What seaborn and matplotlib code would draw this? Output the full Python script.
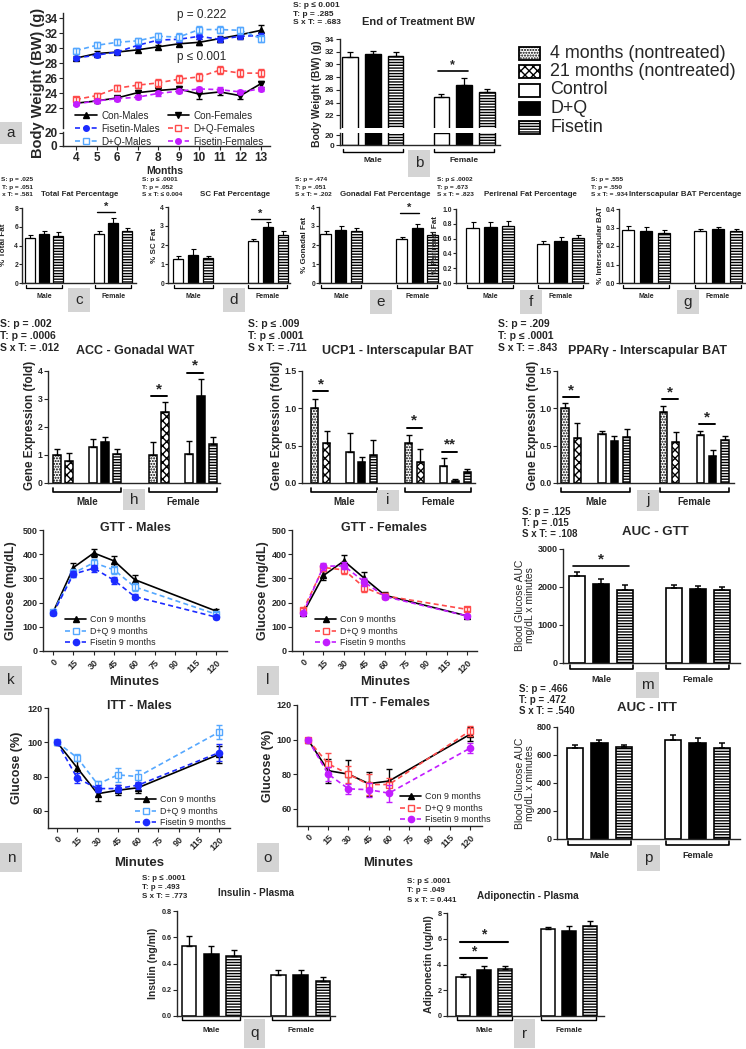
import numpy as np
import pandas as pd
import seaborn as sns
import matplotlib.pyplot as plt
import matplotlib.font_manager as fm
from matplotlib.patches import Rectangle

W, H = 746, 1049

# ---- (a) body weight by month ----
months = [4, 5, 6, 7, 8, 9, 10, 11, 12, 13]
bw_con_m = [28.7, 29.3, 29.5, 29.8, 30.2, 30.6, 30.8, 31.3, 31.8, 32.4]
bw_con_m_err = [0.3, 0.3, 0.3, 0.3, 0.3, 0.3, 0.4, 0.4, 0.5, 0.7]
bw_fis_m = [28.7, 29.1, 29.5, 30.4, 31.1, 31.2, 31.6, 31.2, 31.6, 31.7]
bw_fis_m_err = [0.2, 0.3, 0.3, 0.3, 0.3, 0.3, 0.3, 0.3, 0.3, 0.3]
bw_dq_m = [29.7, 30.4, 30.8, 31.0, 31.6, 31.5, 32.5, 32.5, 32.4, 31.3]
bw_dq_m_err = [0.4, 0.4, 0.4, 0.4, 0.5, 0.5, 0.5, 0.5, 0.5, 0.5]
bw_con_f = [22.7, 23.0, 23.4, 24.1, 24.4, 24.6, 23.9, 24.2, 23.7, 25.3]
bw_con_f_err = [0.2, 0.3, 0.3, 0.3, 0.3, 0.4, 0.6, 0.4, 0.4, 0.4]
bw_dq_f = [23.2, 23.7, 24.7, 25.1, 25.4, 25.9, 26.2, 27.1, 26.7, 26.7]
bw_dq_f_err = [0.3, 0.3, 0.4, 0.4, 0.5, 0.5, 0.5, 0.5, 0.5, 0.5]
bw_fis_f = [22.6, 23.0, 23.3, 23.5, 24.0, 24.3, 24.6, 24.5, 24.2, 24.6]
bw_fis_f_err = [0.2, 0.2, 0.3, 0.3, 0.3, 0.3, 0.3, 0.3, 0.3, 0.3]

# ---- GTT / ITT curves ----
minutes = [0, 15, 30, 45, 60, 120]
min_ticks = [0, 15, 30, 45, 60, 75, 90, 105, 120]
min_labels = ['0', '15', '30', '45', '60', '75', '90', '115', '120']
gtt_m_con = [160, 345, 405, 372, 295, 165]
gtt_m_con_err = [8, 20, 18, 20, 18, 10]
gtt_m_dq = [160, 322, 365, 335, 265, 152]
gtt_m_dq_err = [8, 15, 15, 15, 15, 8]
gtt_m_fis = [155, 318, 342, 292, 225, 140]
gtt_m_fis_err = [6, 12, 15, 15, 10, 6]
gtt_f_con = [155, 312, 372, 300, 230, 145]
gtt_f_con_err = [8, 18, 25, 25, 12, 5]
gtt_f_dq = [168, 345, 335, 262, 228, 172]
gtt_f_dq_err = [8, 15, 15, 20, 10, 8]
gtt_f_fis = [155, 350, 352, 285, 225, 145]
gtt_f_fis_err = [6, 15, 15, 15, 10, 5]
itt_m_con = [100, 85, 70, 72, 73.5, 93]
itt_m_con_err = [1, 5, 4, 3, 3, 5]
itt_m_dq = [100, 91, 75.5, 81, 80, 106]
itt_m_dq_err = [1, 2, 2, 4, 4, 4]
itt_m_fis = [100, 79, 73, 73, 75, 94]
itt_m_fis_err = [1, 3, 2, 2, 2, 5]
itt_f_con = [100, 82, 80, 74.5, 76, 103]
itt_f_con_err = [1, 7, 8, 7, 7, 4]
itt_f_dq = [100, 86, 80, 74, 74, 105]
itt_f_dq_err = [1, 6, 5, 6, 4, 3]
itt_f_fis = [100, 80, 71.5, 71, 69, 95]
itt_f_fis_err = [1, 4, 3, 4, 5, 3]

# ---- bar panels: Control / D+Q / Fisetin, males then females ----
sex3 = ['Male'] * 3 + ['Female'] * 3
trt3 = ['Control', 'D+Q', 'Fisetin'] * 2
bw_end = [31.1, 31.6, 31.4, 24.9, 26.8, 25.7]
bw_end_err = [0.8, 0.55, 0.5, 0.5, 1.0, 0.5]
total_fat = [4.8, 5.2, 5.05, 5.2, 6.4, 5.55]
total_fat_err = [0.35, 0.35, 0.4, 0.3, 0.55, 0.3]
sc_fat = [1.28, 1.5, 1.3, 2.22, 2.93, 2.55]
sc_fat_err = [0.12, 0.27, 0.1, 0.1, 0.3, 0.17]
gonadal_fat = [2.58, 2.8, 2.72, 2.3, 2.92, 2.52]
gonadal_fat_err = [0.18, 0.2, 0.2, 0.1, 0.2, 0.15]
perirenal_fat = [0.75, 0.76, 0.77, 0.53, 0.57, 0.61]
perirenal_fat_err = [0.07, 0.06, 0.07, 0.04, 0.05, 0.04]
bat_pct = [0.285, 0.282, 0.272, 0.283, 0.29, 0.28]
bat_pct_err = [0.025, 0.02, 0.015, 0.01, 0.015, 0.012]
auc_gtt = [2280, 2090, 1920, 1980, 1960, 1930]
auc_gtt_err = [110, 110, 120, 70, 70, 60]
auc_itt = [650, 685, 655, 705, 685, 648]
auc_itt_err = [25, 22, 15, 40, 38, 35]
insulin = [0.53, 0.47, 0.46, 0.31, 0.315, 0.27]
insulin_err = [0.08, 0.06, 0.04, 0.04, 0.035, 0.03]
adiponectin = [3.0, 3.6, 3.65, 6.75, 6.6, 7.0]
adiponectin_err = [0.25, 0.25, 0.25, 0.2, 0.4, 0.38]

# ---- gene expression: 4 mo / 21 mo / Control / D+Q / Fisetin ----
sex5 = ['Male'] * 5 + ['Female'] * 5
trt5 = ['4 months', '21 months', 'Control', 'D+Q', 'Fisetin'] * 2
acc = [1.0, 0.78, 1.28, 1.48, 1.03, 1.0, 2.52, 1.03, 3.1, 1.4]
acc_err = [0.2, 0.28, 0.28, 0.15, 0.2, 0.45, 0.38, 0.48, 0.62, 0.25]
ucp1 = [1.0, 0.53, 0.42, 0.28, 0.37, 0.54, 0.28, 0.23, 0.03, 0.15]
ucp1_err = [0.13, 0.16, 0.25, 0.07, 0.2, 0.1, 0.17, 0.1, 0.03, 0.04]
pparg = [1.0, 0.6, 0.65, 0.56, 0.62, 0.95, 0.55, 0.64, 0.36, 0.57]
pparg_err = [0.07, 0.21, 0.04, 0.07, 0.1, 0.08, 0.13, 0.05, 0.08, 0.06]

legend_keys = ['4 months', '21 months', 'Control', 'D+Q', 'Fisetin']
legend_labels = ['4 months (nontreated)', '21 months (nontreated)', 'Control', 'D+Q', 'Fisetin']

FACE = {'4 months': 'white', '21 months': 'white', 'Control': 'white', 'D+Q': 'black', 'Fisetin': 'white'}
HATCH = {'4 months': '......', '21 months': 'xxxx', 'Control': '', 'D+Q': '', 'Fisetin': '------'}

ORDER3_1 = ['Male|Control', 'Male|D+Q', 'Male|Fisetin', 'g1',
            'Female|Control', 'Female|D+Q', 'Female|Fisetin']
ORDER3_2 = ['Male|Control', 'Male|D+Q', 'Male|Fisetin', 'g1', 'g2',
            'Female|Control', 'Female|D+Q', 'Female|Fisetin']
ORDER5 = ['Male|4 months', 'Male|21 months', 'g1', 'Male|Control', 'Male|D+Q', 'Male|Fisetin', 'g2', 'g3',
          'Female|4 months', 'Female|21 months', 'g4', 'Female|Control', 'Female|D+Q', 'Female|Fisetin']

sns.set_style("ticks")
plt.rcParams['font.family'] = ['Liberation Sans', 'DejaVu Sans']
plt.rcParams['hatch.linewidth'] = 1.0
plt.rcParams['axes.linewidth'] = 1.0

avail = {f.name for f in fm.fontManager.ttflist}
if 'Liberation Sans Narrow' in avail:
    NARROW, NK = ['Liberation Sans Narrow', 'DejaVu Sans'], 1.0
else:
    NARROW, NK = ['Liberation Sans', 'DejaVu Sans'], 0.9
BASE = ['Liberation Sans', 'DejaVu Sans']

fig = plt.figure(figsize=(W / 100, H / 100), dpi=100)


def px_ax(l, t, r, b):
    ax = fig.add_axes([l / W, 1 - b / H, (r - l) / W, (b - t) / H])
    ax.patch.set_alpha(0)
    return ax


def T(x, y, s, size, bold=False, ha='left', va='center', rot=0, family=None, **kw):
    fig.text(x / W, 1 - y / H, s, fontsize=size, fontweight='bold' if bold else 'normal',
             ha=ha, va=va, rotation=rot, family=family or BASE, **kw)


def stats(x, y0, lines, size, dy, family=None, ha='left'):
    for k, s in enumerate(lines):
        T(x, y0 + k * dy, s, size, bold=True, family=family, ha=ha)


def box(x, y, w, h, **kw):
    fig.add_artist(Rectangle((x / W, 1 - (y + h) / H), w / W, h / H, transform=fig.transFigure, **kw))


def letter(x, y, w, h, s):
    box(x, y, w, h, facecolor='#d4d4d4', edgecolor='none')
    T(x + w / 2, y + h / 2, s, 11, ha='center')


def yaxis(ax, ylim, yticks, fs, family=None, labels=None, tl=3, pad=1):
    ax.set_ylim(*ylim)
    ax.set_yticks(yticks)
    if labels is not None:
        ax.set_yticklabels(labels)
    ax.tick_params(axis='y', labelsize=fs, length=tl, width=0.8, pad=pad)
    for lab in ax.get_yticklabels():
        lab.set_fontweight('bold')
        lab.set_family(family or BASE)
    sns.despine(ax=ax)


def bars(ax, sexes, trts, vals, errs, order, width, pads, err=True, lw=1.0, cap=2):
    slot = [f'{s}|{t}' for s, t in zip(sexes, trts)]
    df = pd.DataFrame({'slot': slot, 'trt': trts, 'value': vals})
    sns.barplot(data=df, x='slot', y='value', hue='trt', order=order, palette=FACE, dodge=False,
                width=width, edgecolor='black', linewidth=lw, errorbar=None, legend=False, ax=ax)
    for p in ax.patches:
        k = int(round(p.get_x() + p.get_width() / 2))
        p.set_hatch(HATCH[order[k].split('|')[1]])
    xs = [order.index(s) for s in slot]
    if err:
        ax.errorbar(xs, vals, yerr=[[0] * len(errs), errs], fmt='none', ecolor='black',
                    elinewidth=lw * 0.9, capsize=cap, capthick=lw * 0.9)
    ax.set_xlim(-pads[0], len(order) - 1 + pads[1])
    ax.set_xticks([])
    ax.set_xlabel('')
    ax.set_ylabel('')
    return xs


def groups(ax, xs, sexes, d, label_d, fs, family=None, tick=3, lw=1.0):
    hpx = ax.bbox.height
    tr = ax.get_xaxis_transform()
    for sx in ('Male', 'Female'):
        pos = [x for x, s in zip(xs, sexes) if s == sx]
        x0, x1 = min(pos) - 0.3, max(pos) + 0.3
        y0, y1 = -d / hpx, -(d - tick) / hpx
        ax.plot([x0, x0, x1, x1], [y1, y0, y0, y1], transform=tr, clip_on=False, color='black', lw=lw)
        ax.text((x0 + x1) / 2, -label_d / hpx, sx, transform=tr, ha='center', va='center',
                fontsize=fs, fontweight='bold', family=family or BASE)


def sig(ax, order, a, b, y, s, fs, lw=1.2):
    x0, x1 = order.index(a) - 0.15, order.index(b) + 0.15
    ax.plot([x0, x1], [y, y], color='black', lw=lw, clip_on=False)
    ax.text((x0 + x1) / 2, y, s, ha='center', va='bottom', fontsize=fs, fontweight='bold')


def curves(ax, x, series, ms=4.5):
    for lab, vals, errs, st in series:
        sns.lineplot(x=x, y=vals, ax=ax, label=lab, color=st['c'], marker=st['m'], linestyle=st['ls'],
                     markerfacecolor=st['mfc'], markeredgecolor=st['c'], markersize=ms,
                     markeredgewidth=1, linewidth=1.2)
        ax.errorbar(x, vals, yerr=errs, fmt='none', ecolor=st['c'], elinewidth=1, capsize=2, capthick=1)
    ax.set_xlabel('')
    ax.set_ylabel('')


DASH = (0, (3, 2))
ST = {
    'con_up': dict(c='black', m='^', ls='-', mfc='black'),
    'con_dn': dict(c='black', m='v', ls='-', mfc='black'),
    'fis_m': dict(c='#1c2bff', m='o', ls=DASH, mfc='#1c2bff'),
    'dq_m': dict(c='#55a8ff', m='s', ls=DASH, mfc='white'),
    'dq_f': dict(c='#ff4b4b', m='s', ls=DASH, mfc='white'),
    'fis_f': dict(c='#c21cff', m='o', ls=DASH, mfc='#c21cff'),
}

# ================= (a) =================
ax_at = px_ax(63, 13, 270, 128)
ax_ab = px_ax(63, 132, 270, 146)
curves(ax_at, months, [
    ('Con-Males', bw_con_m, bw_con_m_err, ST['con_up']),
    ('Fisetin-Males', bw_fis_m, bw_fis_m_err, ST['fis_m']),
    ('D+Q-Males', bw_dq_m, bw_dq_m_err, ST['dq_m']),
    ('Con-Females', bw_con_f, bw_con_f_err, ST['con_dn']),
    ('D+Q-Females', bw_dq_f, bw_dq_f_err, ST['dq_f']),
    ('Fisetin-Females', bw_fis_f, bw_fis_f_err, ST['fis_f']),
], ms=4)
hd, lb = ax_at.get_legend_handles_labels()
ax_at.get_legend().remove()
for ax in (ax_at, ax_ab):
    ax.set_xlim(3.37, 13.44)
yaxis(ax_at, (19.4, 34.7), [22, 24, 26, 28, 30, 32, 34], 8.5)
sns.despine(ax=ax_at, bottom=True)
ax_at.set_xticks([])
yaxis(ax_ab, (0, 21), [0, 20], 8.5)
ax_ab.set_xticks(months)
ax_ab.tick_params(axis='x', labelsize=8.5, length=3, width=0.8, pad=1.5)
for lab in ax_ab.get_xticklabels():
    lab.set_fontweight('bold')
fig.legend(hd, lb, loc='upper left', bbox_to_anchor=(70 / W, 1 - 106 / H), ncol=2, frameon=False,
           fontsize=7.1, handlelength=2.2, labelspacing=0.3, borderpad=0, handletextpad=0.45,
           columnspacing=0.8)
T(38, 83, 'Body Weight (BW) (g)', 10.5, bold=True, ha='center', rot=90)
T(165, 171, 'Months', 7.5, bold=True, ha='center')
T(177, 15, 'p = 0.222', 8.5)
T(177, 57, 'p \u2264 0.001', 8.5)
letter(0, 122, 22, 22, 'a')

# ================= (b) =================
ax_bt = px_ax(340, 39, 500, 128)
ax_bb = px_ax(340, 133, 500, 145)
xs = bars(ax_bt, sex3, trt3, bw_end, bw_end_err, ORDER3_1, 0.68, (0.44, 0.57))
bars(ax_bb, sex3, trt3, bw_end, bw_end_err, ORDER3_1, 0.68, (0.44, 0.57), err=False)
yaxis(ax_bt, (20, 34), [22, 24, 26, 28, 30, 32, 34], 6)
sns.despine(ax=ax_bt, bottom=True)
yaxis(ax_bb, (0, 24), [0, 20], 6)
sig(ax_bt, ORDER3_1, 'Female|Control', 'Female|D+Q', 29.0, '*', 9)
groups(ax_bb, xs, sex3, 7, 15, 6)
stats(293, 5, ['S: p \u2264 0.001', 'T: p = .285', 'S x T: = .683'], 6, 9)
T(418, 22, 'End of Treatment BW', 8, bold=True, ha='center')
T(317, 94, 'Body Weight (BW) (g)', 7.5, bold=True, ha='center', rot=90)
letter(408, 150, 22, 27, 'b')

# treatment legend (drawn row by row to keep the tight spacing)
for k, (key, lab) in enumerate(zip(legend_keys, legend_labels)):
    yc = 53 + k * 18.5
    box(519, yc - 6.5, 21, 13, facecolor=FACE[key], edgecolor='black', hatch=HATCH[key], linewidth=1.3)
    T(550, yc, lab, 12.9)

# ================= (c)-(g) =================
small = [
    ('c', (22, 208, 136, 283), total_fat, total_fat_err, ORDER3_2, 0.75, (0.58, 0.65), (0, 8), [0, 2, 4, 6, 8], None,
     '% Total Fat', 4, 'Total Fat Percentage', 80, ['S: p = .025', 'T: p = .051', 'S x T: = .581'], 33, 'right',
     [('Female|Control', 'Female|D+Q', 7.6, '*')], (68, 288)),
    ('d', (168, 207, 290, 283), sc_fat, sc_fat_err, ORDER3_2, 0.72, (0.67, 0.47), (0, 4), [0, 1, 2, 3, 4], None,
     '% SC Fat', 154, 'SC Fat Percentage', 235, ['S: p \u2264 .0001', 'T: p = .052', 'S x T: \u2264 0.004'], 142, 'left',
     [('Female|Control', 'Female|D+Q', 3.37, '*')], (223, 288)),
    ('e', (319, 207, 440, 283), gonadal_fat, gonadal_fat_err, ORDER3_2, 0.72, (0.43, 0.5), (0, 4), [0, 1, 2, 3, 4], None,
     '% Gonadal Fat', 305, 'Gonadal Fat Percentage', 385, ['S: p = .474', 'T: p = .051', 'S x T: = .202'], 295, 'left',
     [('Female|Control', 'Female|D+Q', 3.68, '*')], (370, 290)),
    ('f', (456, 209, 588, 283), perirenal_fat, perirenal_fat_err, ORDER3_1, 0.72, (0.95, 0.56), (0, 1.0),
     [0, 0.2, 0.4, 0.6, 0.8, 1.0], ['0.0', '0.2', '0.4', '0.6', '0.8', '1.0'],
     '% Perirenal Fat', 436, 'Perirenal Fat Percentage', 530, ['S: p \u2264 .0002', 'T: p = .673', 'S x T: = .823'],
     437, 'left', [], (520, 290)),
    ('g', (619, 209, 745, 283), bat_pct, bat_pct_err, ORDER3_1, 0.7, (0.5, 0.5), (0, 0.4),
     [0, 0.1, 0.2, 0.3, 0.4], ['0.0', '0.1', '0.2', '0.3', '0.4'],
     '% Interscapular BAT', 600, 'Interscapular BAT Percentage', 685,
     ['S: p = .555', 'T: p = .550', 'S x T: = .934'], 591, 'left', [], (677, 290)),
]
for (key, rect, vals, errs, order, width, pads, ylim, yt, ytl, ylab, ylx, title, tx, st, sx, sha,
     sigs, lpos) in small:
    ax = px_ax(*rect)
    xs = bars(ax, sex3, trt3, vals, errs, order, width, pads, lw=0.9, cap=1.8)
    yaxis(ax, ylim, yt, 5.4 * NK, NARROW, ytl, tl=2, pad=0.8)
    for a, b, y, s in sigs:
        sig(ax, order, a, b, y, s, 8, lw=1.0)
    groups(ax, xs, sex3, 5, 13, 5.6 * NK, NARROW, tick=3, lw=0.9)
    T(ylx, 245, ylab, 6.4 * NK, bold=True, ha='center', rot=90, family=NARROW)
    T(tx, 194, title, 6.3 * NK, bold=True, ha='center', family=NARROW)
    stats(sx, 180, st, 5.2 * NK, 7, NARROW, ha=sha)
    letter(lpos[0], lpos[1], 22, 24, key)

# ================= (h)-(j) =================
genes = [
    ('h', (48, 371, 220, 483), acc, acc_err, (0.75, 0.58), (0, 4), [0, 1, 2, 3, 4], None, 30,
     'ACC - Gonadal WAT', 135, ['S: p = .002', 'T: p = .0006', 'S x T: = .012'], 0,
     [('Female|4 months', 'Female|21 months', 3.1, '*'), ('Female|Control', 'Female|D+Q', 3.93, '*')], (123, 489)),
    ('i', (302, 371, 475, 483), ucp1, ucp1_err, (1.1, 0.68), (0, 1.5), [0, 0.5, 1.0, 1.5],
     ['0.0', '0.5', '1.0', '1.5'], 277,
     'UCP1 - Interscapular BAT', 398, ['S: p \u2264 .009', 'T: p \u2264 .0001', 'S x T: = .711'], 248,
     [('Male|4 months', 'Male|21 months', 1.23, '*'), ('Female|4 months', 'Female|21 months', 0.74, '*'),
      ('Female|Control', 'Female|D+Q', 0.42, '**')], (377, 490)),
    ('j', (557, 371, 734, 483), pparg, pparg_err, (0.65, 0.73), (0, 1.5), [0, 0.5, 1.0, 1.5],
     ['0.0', '0.5', '1.0', '1.5'], 533,
     'PPAR\u03b3 - Interscapular BAT', 647, ['S: p = .209', 'T: p \u2264 .0001', 'S x T: = .843'], 498,
     [('Male|4 months', 'Male|21 months', 1.15, '*'), ('Female|4 months', 'Female|21 months', 1.12, '*'),
      ('Female|Control', 'Female|D+Q', 0.79, '*')], (637, 490)),
]
for key, rect, vals, errs, pads, ylim, yt, ytl, ylx, title, tx, st, sx, sigs, lpos in genes:
    ax = px_ax(*rect)
    xs = bars(ax, sex5, trt5, vals, errs, ORDER5, 0.6, pads, lw=1.1, cap=2)
    yaxis(ax, ylim, yt, 6.3, None, ytl)
    for a, b, y, s in sigs:
        sig(ax, ORDER5, a, b, y, s, 11, lw=1.4)
    groups(ax, xs, sex5, 9, 19, 7, tick=4, lw=1.2)
    T(ylx, 425, 'Gene Expression (fold)', 8.5, bold=True, ha='center', rot=90)
    T(tx, 351, title, 9, bold=True, ha='center')
    stats(sx, 324, st, 7.5, 12)
    letter(lpos[0], lpos[1], 22, 21, key)

# ================= (k), (l), (n), (o) =================
lines_panels = [
    ('k', (43, 530, 227, 651), (-7.4, 128), (0, 500), [0, 100, 200, 300, 400, 500], 'GTT - Males', 'Glucose (mg/dL)',
     [('Con 9 months', gtt_m_con, gtt_m_con_err, ST['con_up']),
      ('D+Q 9 months', gtt_m_dq, gtt_m_dq_err, ST['dq_m']),
      ('Fisetin 9 months', gtt_m_fis, gtt_m_fis_err, ST['fis_m'])],
     (61, 611), 11, 134, 682, (0, 666)),
    ('l', (292, 530, 477, 651), (-8, 127.3), (0, 500), [0, 100, 200, 300, 400, 500], 'GTT - Females',
     'Glucose (mg/dL)',
     [('Con 9 months', gtt_f_con, gtt_f_con_err, ST['con_up']),
      ('D+Q 9 months', gtt_f_dq, gtt_f_dq_err, ST['dq_f']),
      ('Fisetin 9 months', gtt_f_fis, gtt_f_fis_err, ST['fis_f'])],
     (311, 611), 263, 385, 682, (257, 666)),
    ('n', (48, 708, 230, 828), (-6.7, 128), (50, 120), [60, 80, 100, 120], 'ITT - Males', 'Glucose (%)',
     [('Con 9 months', itt_m_con, itt_m_con_err, ST['con_up']),
      ('D+Q 9 months', itt_m_dq, itt_m_dq_err, ST['dq_m']),
      ('Fisetin 9 months', itt_m_fis, itt_m_fis_err, ST['fis_m'])],
     (131, 791), 17, 139, 863, (0, 843)),
    ('o', (297, 705, 482, 826), (-8.1, 128.9), (50, 120), [60, 80, 100, 120], 'ITT - Females', 'Glucose (%)',
     [('Con 9 months', itt_f_con, itt_f_con_err, ST['con_up']),
      ('D+Q 9 months', itt_f_dq, itt_f_dq_err, ST['dq_f']),
      ('Fisetin 9 months', itt_f_fis, itt_f_fis_err, ST['fis_f'])],
     (396, 788), 268, 388, 863, (257, 843)),
]
for key, rect, xlim, ylim, yt, title, ylab, series, lg, ylx, mx, my, lpos in lines_panels:
    ax = px_ax(*rect)
    curves(ax, minutes, series)
    ax.set_xlim(*xlim)
    yaxis(ax, ylim, yt, 6.5)
    ax.set_xticks(min_ticks, min_labels, rotation=45, ha='right', rotation_mode='anchor')
    ax.tick_params(axis='x', labelsize=6.5, length=3, width=0.8, pad=2)
    for lab in ax.get_xticklabels():
        lab.set_fontweight('bold')
    ax.legend(loc='upper left', bbox_to_anchor=(lg[0] / W, 1 - lg[1] / H), bbox_transform=fig.transFigure,
              frameon=False, fontsize=6.4, handlelength=2.3, labelspacing=0.25, borderpad=0, handletextpad=0.5)
    cy = (rect[1] + rect[3]) / 2
    T(ylx, cy, ylab, 9, bold=True, ha='center', rot=90)
    T((rect[0] + rect[2]) / 2, rect[1] - 2, title, 9, bold=True, ha='center')
    T(mx, my, 'Minutes', 9.5, bold=True, ha='center')
    letter(lpos[0], lpos[1], 22, 29, key)

# ================= (m), (p) =================
aucs = [
    ('m', (563, 549, 740, 663), auc_gtt, auc_gtt_err, (0.58, 0.74), (0, 3000), [0, 1000, 2000, 3000],
     'AUC - GTT', 655, 532, ['S: p = .125', 'T: p = .015', 'S x T: = .108'], 522, 512,
     [('Male|Control', 'Male|Fisetin', 2550, '*')], 605, (636, 672)),
    ('p', (557, 727, 740, 839), auc_itt, auc_itt_err, (0.73, 0.73), (0, 800), [0, 200, 400, 600, 800],
     'AUC - ITT', 647, 708, ['S: p = .466', 'T: p = .472', 'S x T: = .540'], 519, 689,
     [], 783, (637, 845)),
]
for key, rect, vals, errs, pads, ylim, yt, title, tx, ty, st, sx, sy, sigs, ylc, lpos in aucs:
    ax = px_ax(*rect)
    xs = bars(ax, sex3, trt3, vals, errs, ORDER3_1, 0.66, pads, lw=1.2, cap=2.5)
    yaxis(ax, ylim, yt, 6.5)
    for a, b, y, s in sigs:
        sig(ax, ORDER3_1, a, b, y, s, 11, lw=1.2)
    groups(ax, xs, sex3, 6, 17, 6.5, tick=4, lw=1.2)
    T(tx, ty, title, 9.5, bold=True, ha='center')
    stats(sx, sy, st, 7, 11)
    T(525, ylc, 'Blood Glucose AUC\nmg/dL x minutes', 7.5, ha='center', rot=90, linespacing=1.1,
      multialignment='center')
    letter(lpos[0], lpos[1], 23, 26, key)

# ================= (q), (r) =================
plasma = [
    ('q', (177, 911, 335, 1016), insulin, insulin_err, (0.54, 0.54), (0, 0.8), [0, 0.2, 0.4, 0.6, 0.8],
     ['0.0', '0.2', '0.4', '0.6', '0.8'], 'Insulin (ng/ml)', 153, 'Insulin - Plasma', 256, 893,
     ['S: p \u2264 .0001', 'T: p = .493', 'S x T: = .773'], 142, [], (244, 1019)),
    ('r', (447, 913, 604, 1016), adiponectin, adiponectin_err, (0.75, 0.66), (0, 8), [0, 2, 4, 6, 8],
     None, 'Adiponectin (ug/ml)', 429, 'Adiponectin - Plasma', 528, 896,
     ['S: p \u2264 .0001', 'T: p = .049', 'S x T: = 0.441'], 407,
     [('Male|Control', 'Male|D+Q', 4.5, '*'), ('Male|Control', 'Male|Fisetin', 5.75, '*')], (514, 1019)),
]
for key, rect, vals, errs, pads, ylim, yt, ytl, ylab, ylx, title, tx, ty, st, sx, sigs, lpos in plasma:
    ax = px_ax(*rect)
    xs = bars(ax, sex3, trt3, vals, errs, ORDER3_1, 0.66, pads, lw=1.1, cap=2)
    yaxis(ax, ylim, yt, 5.8 * NK, NARROW, ytl)
    for a, b, y, s in sigs:
        sig(ax, ORDER3_1, a, b, y, s, 10, lw=1.5)
    groups(ax, xs, sex3, 4, 15, 6.3 * NK, NARROW, tick=3, lw=1.0)
    T(ylx, (rect[1] + rect[3]) / 2, ylab, 7.5, bold=True, ha='center', rot=90)
    T(tx, ty, title, 8 * NK, bold=True, ha='center', family=NARROW)
    stats(sx, ty - 15, st, 6.3 * NK, 9.5, NARROW)
    letter(lpos[0], lpos[1], 21, 29, key)

fig.savefig('out.png', dpi=100)
